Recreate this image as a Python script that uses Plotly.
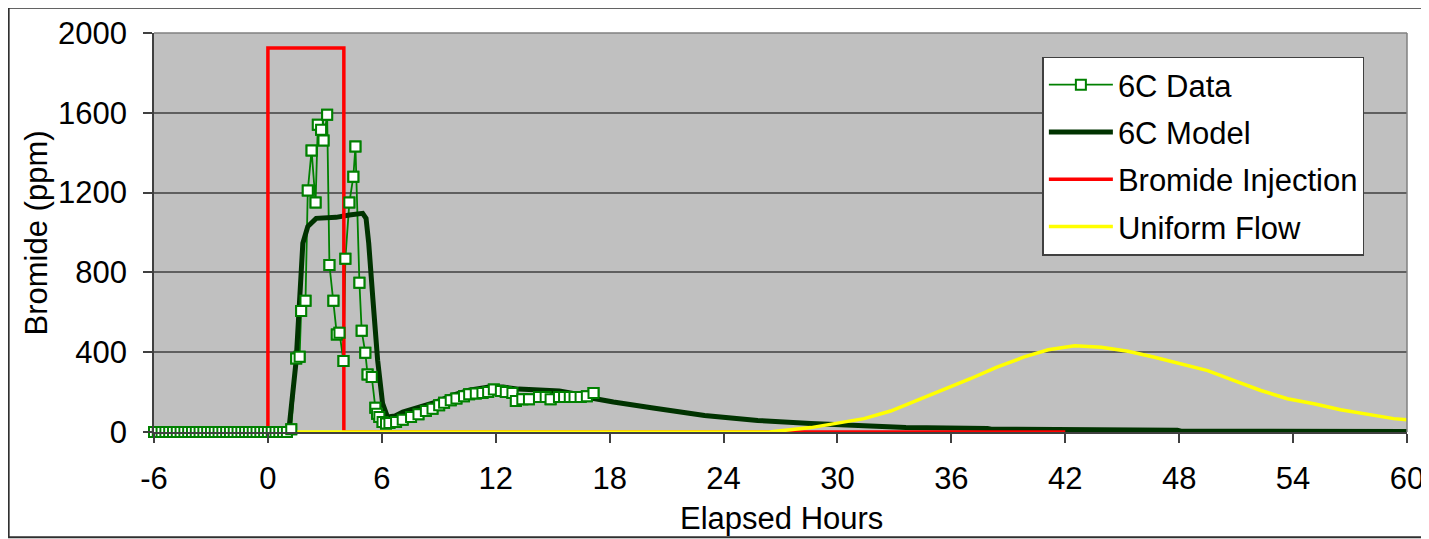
import plotly.graph_objects as go

# ---------------- data ----------------
data_t = [-6.0, -5.8, -5.6, -5.4, -5.2, -5.0, -4.8, -4.6, -4.4, -4.2, -4.0, -3.8,
          -3.6, -3.4, -3.2, -3.0, -2.8, -2.6, -2.4, -2.2, -2.0, -1.8, -1.6, -1.4,
          -1.2, -1.0, -0.8, -0.6, -0.4, -0.2, 0.0, 0.2, 0.4, 0.6, 0.8, 1.0,
          1.23, 1.49, 1.67, 1.75, 1.98, 2.10, 2.30, 2.51, 2.63, 2.80, 2.93, 3.12,
          3.24, 3.45, 3.63, 3.77, 3.98, 4.08, 4.29, 4.50, 4.61, 4.82, 4.94, 5.13,
          5.25, 5.47, 5.66, 5.75, 5.87, 6.04, 6.22,
          6.40, 6.75, 7.10, 7.54, 7.93, 8.32, 8.67, 9.02, 9.28, 9.63, 9.93, 10.33,
          10.60, 10.95, 11.30, 11.60, 11.90, 12.27, 12.53, 12.88, 13.06, 13.40,
          13.75, 14.28, 14.63, 14.89, 15.33, 15.60, 15.90, 16.15, 16.47, 16.80, 17.15]
data_v = [0, 0, 0, 0, 0, 0, 0, 0, 0, 0, 0, 0,
          0, 0, 0, 0, 0, 0, 0, 0, 0, 0, 0, 0,
          0, 0, 0, 0, 0, 0, 0, 0, 0, 0, 0, 0,
          14, 368, 377, 606, 658, 1210, 1411, 1150, 1540, 1515, 1461, 1590,
          837, 658, 489, 497, 356, 868, 1150, 1280, 1431, 748, 507, 397,
          288, 276, 121, 92, 75, 50, 42,
          45, 50, 62, 75, 89, 105, 117, 134, 147, 159, 168, 179,
          189, 193, 196, 201, 213, 206, 201, 196, 156, 164,
          164, 176, 176, 164, 176, 176, 176, 176, 176, 179, 196]

model_t = [-6.0, 1.0, 1.14, 1.49, 1.84, 2.10, 2.54, 3.59, 4.29, 4.99, 5.17, 5.31,
           5.52, 5.78, 6.04, 6.30, 6.70, 7.10, 8.85, 9.72, 10.60, 11.65, 12.40,
           13.20, 14.30, 15.35, 16.30, 17.10, 18.20, 19.60, 20.20, 23.00,
           25.80, 28.60, 30.80, 33.40, 33.60, 37.90, 38.10,
           47.90, 48.10, 60.5]
model_v = [0, 0, 42, 360, 946, 1030, 1071, 1076, 1088, 1096, 1071, 946,
           678, 360, 143, 75, 80, 100, 150, 184, 209, 226, 225,
           215, 210, 205, 190, 169, 150, 127, 122, 83,
           58, 42, 33, 26, 22, 18, 14,
           9, 4, 3]

inject_t = [0, 0, 4, 4, 42]
inject_v = [0, 1925, 1925, 0, 0]

uniform_t = [0, 26.4, 28.6, 31.4, 32.8, 34.2, 35.6, 37.0, 38.4, 39.8, 41.1, 42.5,
             43.9, 45.3, 46.7, 48.1, 49.5, 50.9, 52.3, 53.7, 55.1, 56.5, 57.9,
             59.3, 60.4]
uniform_v = [0, 0, 22, 67, 105, 158, 213, 267, 325, 375, 412, 432,
             425, 405, 375, 342, 308, 258, 208, 167, 142, 112, 88,
             67, 58]

x_ticks = [-6, 0, 6, 12, 18, 24, 30, 36, 42, 48, 54, 60]
y_ticks = [0, 400, 800, 1200, 1600, 2000]

# --------------- figure ---------------
FONT = "Liberation Sans, Arial, sans-serif"
FS = 31
fig = go.Figure()

marker_style = dict(symbol="square", size=10, color="white",
                    line=dict(color="#008000", width=2))

# data line (drawn first, markers re-drawn on top at the end)
fig.add_trace(go.Scatter(
    x=data_t, y=data_v, name="6C Data", mode="lines+markers",
    line=dict(color="#008000", width=1.8), marker=marker_style,
    legendrank=1, legendgroup="a", cliponaxis=False))
fig.add_trace(go.Scatter(
    x=model_t, y=model_v, name="6C Model", mode="lines",
    line=dict(color="#003300", width=5),
    legendrank=2, legendgroup="b"))
fig.add_trace(go.Scatter(
    x=inject_t, y=inject_v, name="Bromide Injection", mode="lines",
    line=dict(color="#FF0000", width=3.5),
    legendrank=3, legendgroup="c"))
fig.add_trace(go.Scatter(
    x=uniform_t, y=uniform_v, name="Uniform Flow", mode="lines",
    line=dict(color="#FFFF00", width=3.5),
    legendrank=4, legendgroup="d"))
fig.add_trace(go.Scatter(
    x=data_t, y=data_v, mode="markers", showlegend=False, hoverinfo="skip",
    marker=marker_style, legendgroup="a", cliponaxis=False))

fig.update_layout(
    width=1421, height=531,
    margin=dict(l=146, r=22, t=25, b=107, autoexpand=False),
    paper_bgcolor="white", plot_bgcolor="#C0C0C0",
    font=dict(family=FONT, size=FS, color="black"),
    showlegend=True,
    legend=dict(x=0.709, y=0.941, xanchor="left", yanchor="top",
                bgcolor="white", bordercolor="#404040", borderwidth=1.5,
                font=dict(family=FONT, size=FS, color="black"),
                itemwidth=64, tracegroupgap=4, traceorder="grouped"),
    xaxis=dict(range=[-6, 60], tickvals=x_ticks, ticktext=[str(v) for v in x_ticks],
               showgrid=False, zeroline=False, automargin=False,
               ticks="outside", ticklen=9, tickwidth=1.5, tickcolor="#404040",
               showline=True, linecolor="#404040", linewidth=1.5,
               ticklabelstandoff=9),
    yaxis=dict(range=[0, 2000], tickvals=y_ticks, ticktext=[str(v) for v in y_ticks],
               showgrid=True, gridcolor="#5f5f5f", gridwidth=1.5, zeroline=False,
               automargin=False,
               ticks="outside", ticklen=9, tickwidth=1.5, tickcolor="#404040",
               showline=True, linecolor="#404040", linewidth=1.5,
               ticklabelstandoff=10),
    annotations=[
        dict(text="Elapsed Hours", xref="paper", yref="paper", x=0.501, y=-0.218,
             xanchor="center", yanchor="middle", showarrow=False,
             font=dict(family=FONT, size=FS, color="black")),
        dict(text="Bromide (ppm)", xref="paper", yref="paper", x=-0.0934, y=0.5,
             xanchor="center", yanchor="middle", showarrow=False, textangle=-90,
             font=dict(family=FONT, size=FS, color="black")),
    ],
    shapes=[
        # plot-area border top/right
        dict(type="line", xref="paper", yref="paper", x0=0, x1=1, y0=1, y1=1,
             line=dict(color="#808080", width=1.5), layer="above"),
        dict(type="line", xref="paper", yref="paper", x0=1, x1=1, y0=0, y1=1,
             line=dict(color="#808080", width=1.5), layer="above"),
        # outer chart frame
        dict(type="rect", xref="paper", yref="paper",
             x0=-0.116, x1=1.0168, y0=-0.264, y1=1.0635,
             line=dict(color="#303030", width=2), layer="below"),
    ],
)

fig.write_html("out.html")
